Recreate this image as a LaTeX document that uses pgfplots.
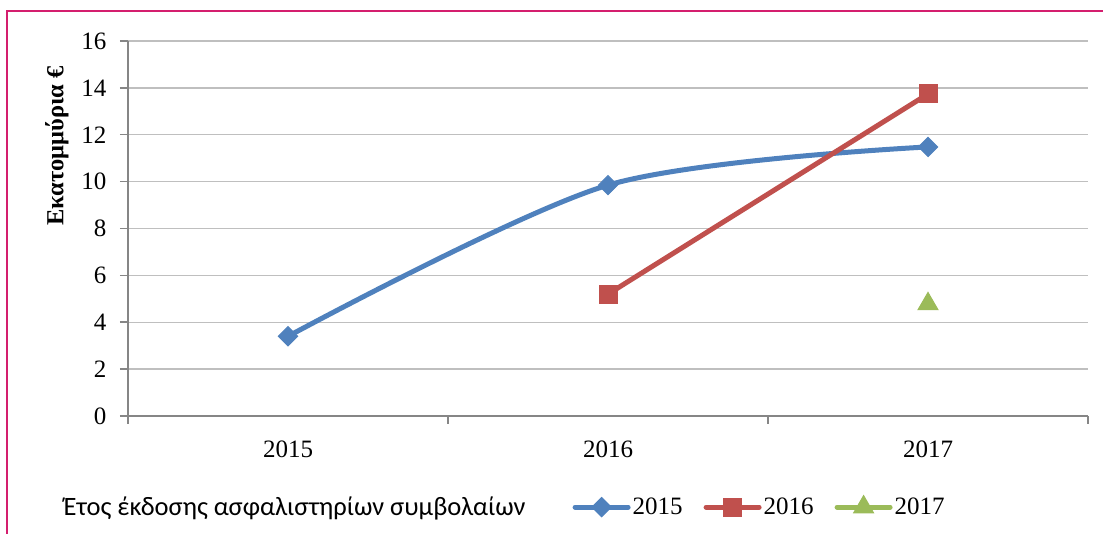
\documentclass[border=0pt]{standalone}
\usepackage{fontspec}
\setmainfont{Liberation Serif}
\newfontfamily\calibri{Carlito}
\usepackage{pgfplots}
\pgfplotsset{compat=1.18}
\definecolor{cblue}{RGB}{79,129,189}
\definecolor{cred}{RGB}{192,80,77}
\definecolor{cgreen}{RGB}{155,187,89}
\definecolor{cgrid}{RGB}{191,191,191}
\definecolor{caxis}{RGB}{134,134,134}
\definecolor{cframe}{RGB}{212,30,110}
\begin{document}
\begin{tikzpicture}[x=1pt,y=1pt]
\path[use as bounding box] (0,0) rectangle (1103,534);
\draw[cframe,line width=2pt] (7,0) -- (7,523) -- (1103,523);
\begin{axis}[
  at={(128pt,118pt)}, anchor=south west,
  scale only axis, width=960pt, height=375pt,
  xmin=-0.5, xmax=2.5, ymin=0, ymax=16,
  axis x line*=bottom, axis y line*=left,
  axis line style={caxis,line width=1.5pt},
  tick align=outside,
  tick style={caxis,line width=1.5pt},
  major tick length=8pt,
  xtick={-0.5,0.5,1.5,2.5}, xticklabels={},
  extra x ticks={0,1,2}, extra x tick labels={2015,2016,2017},
  extra x tick style={major tick length=0pt, grid=none},
  ytick={0,2,...,16},
  ymajorgrids, grid style={cgrid,line width=1.3pt},
  tick label style={font=\fontsize{25}{29}\selectfont},
  /pgf/number format/assume math mode=true,
  yticklabel style={xshift=-10pt},
  xticklabel style={yshift=-21pt},
  ylabel={\bfseries Εκατομμύρια €},
  ylabel style={font=\fontsize{24.5}{28}\selectfont, at={(axis description cs:-0.074,0.72)}, anchor=center, rotate=0},
  legend columns=4,
  legend style={draw=none, fill=none, at={(axis description cs:-0.0725,-0.243)}, anchor=west,
    font=\fontsize{25}{29}\selectfont, nodes={inner sep=2pt},
    /tikz/every even column/.append style={column sep=19pt}},
  legend image code/.code={\draw[mark repeat=2,mark phase=2] plot coordinates {(0pt,0pt) (26.5pt,0pt) (53pt,0pt)};},
]
\addlegendimage{empty legend}
\addlegendentry{\calibri\fontsize{26.5}{30}\selectfont Έτος έκδοσης ασφαλιστηρίων συμβολαίων\rule{26pt}{0pt}}
\addplot[cblue, line width=5pt, line cap=round, smooth, tension=0.5, mark=square*, mark size=6.8pt, mark options={rotate=45,line width=1pt,cblue,fill=cblue}]
  coordinates {(0,3.4) (1,9.85) (2,11.48)};
\addlegendentry{2015}
\addplot[cred, line width=5pt, line cap=round, mark=square*, mark size=9pt, mark options={line width=1pt,cred,fill=cred}]
  coordinates {(1,5.2) (2,13.74)};
\addlegendentry{2016}
\addplot[cgreen, line width=5pt, line cap=round, mark=triangle*, mark size=11.5pt, mark options={line width=1pt,cgreen,fill=cgreen}]
  coordinates {(2,4.78)};
\addlegendentry{2017}
\end{axis}
\end{tikzpicture}
\end{document}
